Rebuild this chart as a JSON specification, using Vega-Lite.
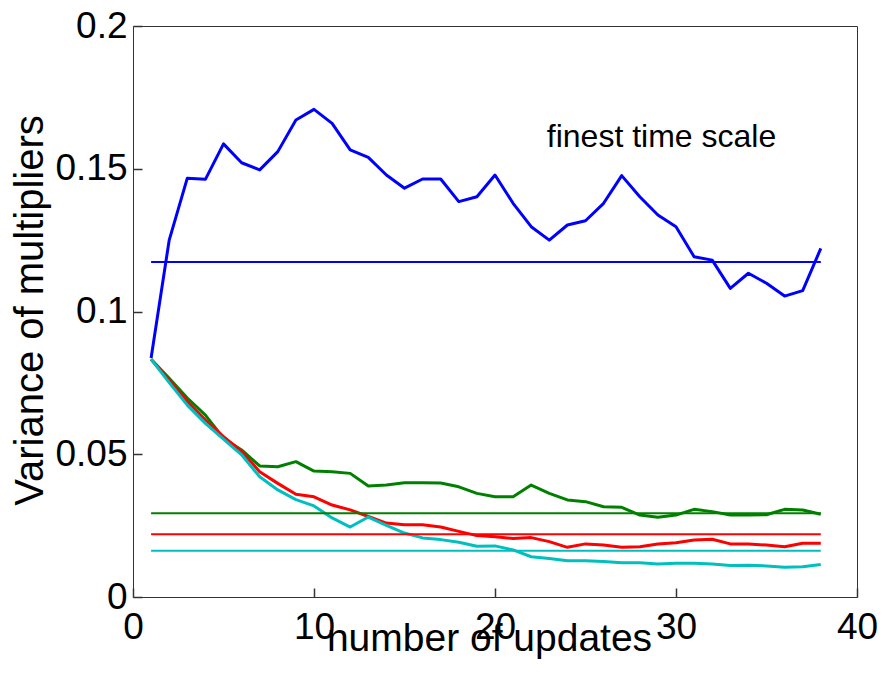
{
  "$schema": "https://vega.github.io/schema/vega-lite/v6.json",
  "width": 724,
  "height": 571,
  "autosize": {"type": "none"},
  "padding": {"left": 133, "top": 26, "right": 25, "bottom": 79},
  "background": "white",
  "config": {
    "view": {"stroke": "#333333", "strokeWidth": 1},
    "font": "Liberation Sans",
    "axis": {
      "grid": false,
      "domain": false,
      "ticks": true,
      "tickColor": "#333333",
      "tickWidth": 1.5,
      "tickSize": 9,
      "offset": -9,
      "labelColor": "black",
      "titleColor": "black",
      "labelFont": "Liberation Sans",
      "titleFont": "Liberation Sans",
      "labelFontWeight": "normal",
      "titleFontWeight": "normal",
      "labelOverlap": false,
      "labelFlush": false,
      "zindex": 1
    }
  },
  "datasets": {
    "curves": [
      {"n": 1, "v": 0.0837, "s": "blue"}, {"n": 2, "v": 0.125, "s": "blue"}, {"n": 3, "v": 0.1467, "s": "blue"}, {"n": 4, "v": 0.1463, "s": "blue"}, {"n": 5, "v": 0.1587, "s": "blue"}, {"n": 6, "v": 0.1521, "s": "blue"}, {"n": 7, "v": 0.1496, "s": "blue"}, {"n": 8, "v": 0.156, "s": "blue"}, {"n": 9, "v": 0.1671, "s": "blue"}, {"n": 10, "v": 0.1708, "s": "blue"}, {"n": 11, "v": 0.1659, "s": "blue"}, {"n": 12, "v": 0.1566, "s": "blue"}, {"n": 13, "v": 0.154, "s": "blue"}, {"n": 14, "v": 0.1478, "s": "blue"}, {"n": 15, "v": 0.1432, "s": "blue"}, {"n": 16, "v": 0.1464, "s": "blue"}, {"n": 17, "v": 0.1464, "s": "blue"}, {"n": 18, "v": 0.1385, "s": "blue"}, {"n": 19, "v": 0.1402, "s": "blue"}, {"n": 20, "v": 0.1478, "s": "blue"}, {"n": 21, "v": 0.1379, "s": "blue"}, {"n": 22, "v": 0.1297, "s": "blue"}, {"n": 23, "v": 0.125, "s": "blue"}, {"n": 24, "v": 0.1303, "s": "blue"}, {"n": 25, "v": 0.1318, "s": "blue"}, {"n": 26, "v": 0.1379, "s": "blue"}, {"n": 27, "v": 0.1476, "s": "blue"}, {"n": 28, "v": 0.1402, "s": "blue"}, {"n": 29, "v": 0.1338, "s": "blue"}, {"n": 30, "v": 0.1297, "s": "blue"}, {"n": 31, "v": 0.1192, "s": "blue"}, {"n": 32, "v": 0.118, "s": "blue"}, {"n": 33, "v": 0.1081, "s": "blue"}, {"n": 34, "v": 0.1134, "s": "blue"}, {"n": 35, "v": 0.1099, "s": "blue"}, {"n": 36, "v": 0.1054, "s": "blue"}, {"n": 37, "v": 0.1073, "s": "blue"}, {"n": 38, "v": 0.1221, "s": "blue"},
      {"n": 1, "v": 0.0833, "s": "green"}, {"n": 2, "v": 0.0766, "s": "green"}, {"n": 3, "v": 0.0697, "s": "green"}, {"n": 4, "v": 0.0637, "s": "green"}, {"n": 5, "v": 0.0556, "s": "green"}, {"n": 6, "v": 0.0515, "s": "green"}, {"n": 7, "v": 0.0459, "s": "green"}, {"n": 8, "v": 0.0456, "s": "green"}, {"n": 9, "v": 0.0474, "s": "green"}, {"n": 10, "v": 0.0441, "s": "green"}, {"n": 11, "v": 0.0439, "s": "green"}, {"n": 12, "v": 0.0433, "s": "green"}, {"n": 13, "v": 0.0389, "s": "green"}, {"n": 14, "v": 0.0392, "s": "green"}, {"n": 15, "v": 0.04, "s": "green"}, {"n": 16, "v": 0.04, "s": "green"}, {"n": 17, "v": 0.0399, "s": "green"}, {"n": 18, "v": 0.0386, "s": "green"}, {"n": 19, "v": 0.0363, "s": "green"}, {"n": 20, "v": 0.0351, "s": "green"}, {"n": 21, "v": 0.0351, "s": "green"}, {"n": 22, "v": 0.0392, "s": "green"}, {"n": 23, "v": 0.0363, "s": "green"}, {"n": 24, "v": 0.034, "s": "green"}, {"n": 25, "v": 0.0334, "s": "green"}, {"n": 26, "v": 0.0316, "s": "green"}, {"n": 27, "v": 0.0314, "s": "green"}, {"n": 28, "v": 0.0287, "s": "green"}, {"n": 29, "v": 0.0279, "s": "green"}, {"n": 30, "v": 0.0287, "s": "green"}, {"n": 31, "v": 0.0307, "s": "green"}, {"n": 32, "v": 0.0299, "s": "green"}, {"n": 33, "v": 0.0287, "s": "green"}, {"n": 34, "v": 0.0287, "s": "green"}, {"n": 35, "v": 0.0288, "s": "green"}, {"n": 36, "v": 0.0307, "s": "green"}, {"n": 37, "v": 0.0305, "s": "green"}, {"n": 38, "v": 0.029, "s": "green"},
      {"n": 1, "v": 0.0833, "s": "red"}, {"n": 2, "v": 0.0758, "s": "red"}, {"n": 3, "v": 0.0685, "s": "red"}, {"n": 4, "v": 0.062, "s": "red"}, {"n": 5, "v": 0.0562, "s": "red"}, {"n": 6, "v": 0.051, "s": "red"}, {"n": 7, "v": 0.0439, "s": "red"}, {"n": 8, "v": 0.0398, "s": "red"}, {"n": 9, "v": 0.036, "s": "red"}, {"n": 10, "v": 0.0351, "s": "red"}, {"n": 11, "v": 0.0322, "s": "red"}, {"n": 12, "v": 0.0305, "s": "red"}, {"n": 13, "v": 0.0282, "s": "red"}, {"n": 14, "v": 0.0259, "s": "red"}, {"n": 15, "v": 0.0253, "s": "red"}, {"n": 16, "v": 0.0253, "s": "red"}, {"n": 17, "v": 0.0245, "s": "red"}, {"n": 18, "v": 0.023, "s": "red"}, {"n": 19, "v": 0.0215, "s": "red"}, {"n": 20, "v": 0.0211, "s": "red"}, {"n": 21, "v": 0.0205, "s": "red"}, {"n": 22, "v": 0.0208, "s": "red"}, {"n": 23, "v": 0.0194, "s": "red"}, {"n": 24, "v": 0.0174, "s": "red"}, {"n": 25, "v": 0.0186, "s": "red"}, {"n": 26, "v": 0.0182, "s": "red"}, {"n": 27, "v": 0.0174, "s": "red"}, {"n": 28, "v": 0.0176, "s": "red"}, {"n": 29, "v": 0.0186, "s": "red"}, {"n": 30, "v": 0.019, "s": "red"}, {"n": 31, "v": 0.02, "s": "red"}, {"n": 32, "v": 0.0202, "s": "red"}, {"n": 33, "v": 0.0186, "s": "red"}, {"n": 34, "v": 0.0186, "s": "red"}, {"n": 35, "v": 0.0182, "s": "red"}, {"n": 36, "v": 0.0176, "s": "red"}, {"n": 37, "v": 0.0188, "s": "red"}, {"n": 38, "v": 0.0188, "s": "red"},
      {"n": 1, "v": 0.0833, "s": "cyan"}, {"n": 2, "v": 0.0751, "s": "cyan"}, {"n": 3, "v": 0.0672, "s": "cyan"}, {"n": 4, "v": 0.0608, "s": "cyan"}, {"n": 5, "v": 0.0553, "s": "cyan"}, {"n": 6, "v": 0.0498, "s": "cyan"}, {"n": 7, "v": 0.0421, "s": "cyan"}, {"n": 8, "v": 0.0375, "s": "cyan"}, {"n": 9, "v": 0.0341, "s": "cyan"}, {"n": 10, "v": 0.0319, "s": "cyan"}, {"n": 11, "v": 0.0277, "s": "cyan"}, {"n": 12, "v": 0.0245, "s": "cyan"}, {"n": 13, "v": 0.028, "s": "cyan"}, {"n": 14, "v": 0.0251, "s": "cyan"}, {"n": 15, "v": 0.0224, "s": "cyan"}, {"n": 16, "v": 0.0207, "s": "cyan"}, {"n": 17, "v": 0.0201, "s": "cyan"}, {"n": 18, "v": 0.0192, "s": "cyan"}, {"n": 19, "v": 0.0178, "s": "cyan"}, {"n": 20, "v": 0.0179, "s": "cyan"}, {"n": 21, "v": 0.0165, "s": "cyan"}, {"n": 22, "v": 0.0141, "s": "cyan"}, {"n": 23, "v": 0.0135, "s": "cyan"}, {"n": 24, "v": 0.0127, "s": "cyan"}, {"n": 25, "v": 0.0127, "s": "cyan"}, {"n": 26, "v": 0.0124, "s": "cyan"}, {"n": 27, "v": 0.012, "s": "cyan"}, {"n": 28, "v": 0.012, "s": "cyan"}, {"n": 29, "v": 0.0116, "s": "cyan"}, {"n": 30, "v": 0.0118, "s": "cyan"}, {"n": 31, "v": 0.0118, "s": "cyan"}, {"n": 32, "v": 0.0116, "s": "cyan"}, {"n": 33, "v": 0.011, "s": "cyan"}, {"n": 34, "v": 0.0111, "s": "cyan"}, {"n": 35, "v": 0.0109, "s": "cyan"}, {"n": 36, "v": 0.0104, "s": "cyan"}, {"n": 37, "v": 0.0106, "s": "cyan"}, {"n": 38, "v": 0.0114, "s": "cyan"}
    ],
    "refs": [
      {"n": 1, "v": 0.1173, "s": "blue"}, {"n": 38, "v": 0.1173, "s": "blue"},
      {"n": 1, "v": 0.0293, "s": "green"}, {"n": 38, "v": 0.0293, "s": "green"},
      {"n": 1, "v": 0.022, "s": "red"}, {"n": 38, "v": 0.022, "s": "red"},
      {"n": 1, "v": 0.0162, "s": "cyan"}, {"n": 38, "v": 0.0162, "s": "cyan"}
    ],
    "notes": [
      {"n": 29.2, "v": 0.1612, "label": "finest time scale"}
    ]
  },
  "layer": [
    {
      "data": {"name": "curves"},
      "mark": {"type": "line", "strokeWidth": 3, "strokeJoin": "round"},
      "encoding": {
        "x": {
          "field": "n", "type": "quantitative",
          "scale": {"domain": [0, 40], "nice": false, "zero": false},
          "axis": {
            "values": [0, 10, 20, 30, 40], "format": "d",
            "title": "number of updates",
            "labelFontSize": 37, "labelPadding": 12,
            "titleFontSize": 39, "titleBaseline": "alphabetic",
            "titleY": 62, "titleX": 356, "titleAlign": "center"
          }
        },
        "y": {
          "field": "v", "type": "quantitative",
          "scale": {"domain": [0, 0.2], "nice": false},
          "axis": {
            "values": [0, 0.05, 0.1, 0.15, 0.2], "format": "~g",
            "title": "Variance of multipliers",
            "labelFontSize": 37, "labelPadding": 6,
            "titleFontSize": 40, "titleBaseline": "alphabetic",
            "titleAngle": 270, "titleX": -100, "titleY": 284, "titleAlign": "center"
          }
        },
        "color": {
          "field": "s", "type": "nominal",
          "scale": {"domain": ["blue", "green", "red", "cyan"], "range": ["#0000ff", "#008000", "#ff0000", "#00bfbf"]},
          "legend": null
        },
        "order": {"field": "n", "type": "quantitative"}
      }
    },
    {
      "data": {"name": "refs"},
      "mark": {"type": "line", "strokeWidth": 2},
      "encoding": {
        "x": {"field": "n", "type": "quantitative"},
        "y": {"field": "v", "type": "quantitative"},
        "color": {"field": "s", "type": "nominal", "legend": null}
      }
    },
    {
      "data": {"name": "notes"},
      "mark": {"type": "text", "fontSize": 32, "font": "Liberation Sans", "color": "black", "align": "center", "baseline": "middle"},
      "encoding": {
        "x": {"field": "n", "type": "quantitative"},
        "y": {"field": "v", "type": "quantitative"},
        "text": {"field": "label"}
      }
    }
  ]
}
